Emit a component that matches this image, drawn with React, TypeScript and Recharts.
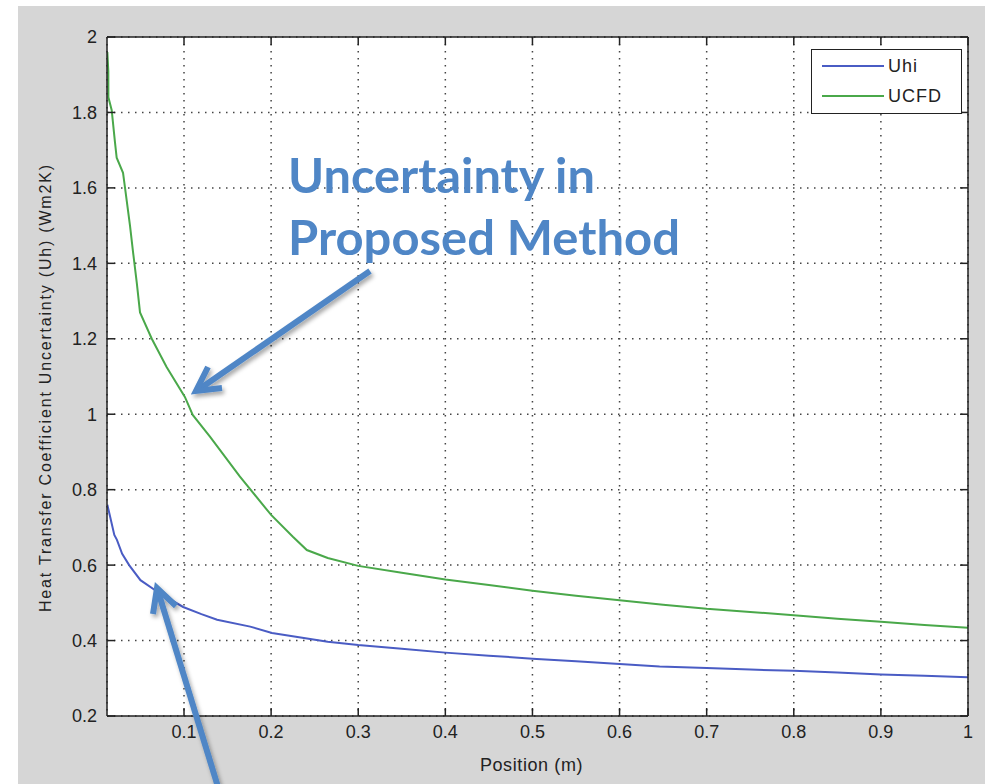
import React from 'react';
import { LineChart, Line, XAxis, YAxis, CartesianGrid, Legend } from 'recharts';

// ---- data ----
const uhiX = [0.012, 0.015, 0.02, 0.023, 0.029, 0.037, 0.05, 0.069, 0.099, 0.12, 0.138, 0.176, 0.201, 0.265, 0.3, 0.35, 0.4, 0.45, 0.5, 0.55, 0.6, 0.646, 0.7, 0.75, 0.8, 0.85, 0.9, 0.95, 1.0];
const uhiY = [0.76, 0.73, 0.68, 0.667, 0.63, 0.6, 0.56, 0.53, 0.489, 0.47, 0.455, 0.437, 0.42, 0.397, 0.388, 0.378, 0.368, 0.36, 0.352, 0.345, 0.338, 0.331, 0.327, 0.323, 0.32, 0.315, 0.31, 0.307, 0.303];

const cfdX = [0.012, 0.0131, 0.0132, 0.017, 0.0208, 0.0227, 0.03, 0.0323, 0.038, 0.0415, 0.0457, 0.0495, 0.063, 0.08, 0.101, 0.11, 0.13, 0.164, 0.2, 0.225, 0.241, 0.265, 0.3, 0.35, 0.4, 0.45, 0.5, 0.55, 0.6, 0.65, 0.7, 0.75, 0.8, 0.85, 0.9, 0.95, 1.0];
const cfdY = [1.96, 1.91, 1.84, 1.806, 1.72, 1.68, 1.64, 1.6, 1.5, 1.43, 1.35, 1.27, 1.2, 1.125, 1.046, 0.998, 0.94, 0.835, 0.733, 0.675, 0.64, 0.619, 0.598, 0.58, 0.562, 0.547, 0.532, 0.519, 0.507, 0.495, 0.484, 0.476, 0.467, 0.458, 0.45, 0.441, 0.434];

const xTicks = [0.1, 0.2, 0.3, 0.4, 0.5, 0.6, 0.7, 0.8, 0.9, 1];
const yTicks = [0.2, 0.4, 0.6, 0.8, 1, 1.2, 1.4, 1.6, 1.8, 2];
const xDomain = [0.0116, 1];
const yDomain = [0.2, 2];

const seriesNames = ['Uhi', 'UCFD'];
const xLabel = 'Position (m)';
const yLabel = 'Heat Transfer Coefficient Uncertainty (Uh) (Wm2K)';
const noteLines = ['Uncertainty in', 'Proposed Method'];

const uhiData = uhiX.map((x, i) => ({ x, y: uhiY[i] }));
const cfdData = cfdX.map((x, i) => ({ x, y: cfdY[i] }));

const FONT = '"Liberation Sans", Arial, sans-serif';
const BLUE = '#4a5cc4';
const GREEN = '#4aa84a';
const NOTE = '#4f86c6';

const EmptyTick = () => <g />;

const renderYLabel = (props: any) => {
  const vb = props.viewBox || {};
  const cx = vb.x + 4;
  const cy = vb.y + vb.height / 2 + 12;
  return (
    <text
      x={cx}
      y={cy}
      transform={`rotate(-90 ${cx} ${cy})`}
      textAnchor="middle"
      fontFamily={FONT}
      fontSize={16}
      fill="#222"
      textLength={447}
      lengthAdjust="spacing"
    >
      {yLabel}
    </text>
  );
};

const renderXLabel = (props: any) => {
  const vb = props.viewBox || {};
  const cx = vb.x + vb.width / 2 - 6;
  return (
    <text x={cx} y={vb.y + 55} textAnchor="middle" fontFamily={FONT} fontSize={18} fill="#222" letterSpacing={0.6}>
      {xLabel}
    </text>
  );
};

const renderLegend = (props: any) => {
  const payload = [...(props.payload || [])].sort(
    (a: any, b: any) => seriesNames.indexOf(a.value) - seriesNames.indexOf(b.value)
  );
  return (
    <div
      style={{
        width: 151,
        height: 65,
        boxSizing: 'border-box',
        border: '1.5px solid #222',
        background: '#fff',
        fontFamily: FONT,
        fontSize: 18,
        color: '#222',
        paddingTop: 1,
      }}
    >
      {payload.map((p: any, i: number) => (
        <div key={i} style={{ display: 'flex', alignItems: 'center', height: 30 }}>
          <svg width={76} height={30} style={{ display: 'block' }}>
            <line x1={10} x2={72} y1={15} y2={15} stroke={p.color} strokeWidth={2} />
          </svg>
          <span style={{ letterSpacing: 1 }}>{p.value}</span>
        </div>
      ))}
    </div>
  );
};

export default function App() {
  return (
    <div style={{ position: 'absolute', left: 0, top: 0, width: 990, height: 784, background: '#fff', overflow: 'hidden' }}>
      <div style={{ position: 'absolute', left: 18, top: 6, width: 967, height: 778, background: '#d6d6d6' }} />
      <div style={{ position: 'absolute', left: 0, top: 0 }}>
        <LineChart width={990} height={784} margin={{ top: 37, right: 22, bottom: 28, left: 47 }}>
          <CartesianGrid
            xAxisId="main"
            yAxisId="main"
            fill="#fff"
            stroke="#444"
            strokeWidth={1.5}
            strokeDasharray="1.5 5.5"
          />
          <XAxis
            xAxisId="main"
            type="number"
            dataKey="x"
            domain={xDomain}
            ticks={xTicks}
            allowDataOverflow
            height={40}
            tickLine={false}
            tickSize={0}
            tickMargin={9}
            axisLine={{ stroke: '#222', strokeWidth: 1.5 }}
            tick={{ fontFamily: FONT, fontSize: 18, fill: '#222' }}
            label={{ content: renderXLabel }}
          />
          <XAxis
            xAxisId="bottomTicks"
            type="number"
            dataKey="x"
            domain={xDomain}
            ticks={xTicks}
            allowDataOverflow
            mirror
            tick={EmptyTick}
            axisLine={false}
            tickSize={8}
            tickLine={{ stroke: '#222', strokeWidth: 1.5 }}
          />
          <XAxis
            xAxisId="top"
            orientation="top"
            type="number"
            dataKey="x"
            domain={xDomain}
            ticks={xTicks}
            allowDataOverflow
            mirror
            tick={EmptyTick}
            tickSize={8}
            axisLine={{ stroke: '#222', strokeWidth: 1.5 }}
            tickLine={{ stroke: '#222', strokeWidth: 1.5 }}
          />
          <YAxis
            yAxisId="main"
            type="number"
            domain={yDomain}
            ticks={yTicks}
            allowDataOverflow
            width={60}
            tickLine={false}
            tickSize={0}
            tickMargin={10}
            axisLine={{ stroke: '#222', strokeWidth: 1.5 }}
            tick={{ fontFamily: FONT, fontSize: 18, fill: '#222' }}
            label={{ content: renderYLabel }}
          />
          <YAxis
            yAxisId="leftTicks"
            type="number"
            domain={yDomain}
            ticks={yTicks}
            allowDataOverflow
            mirror
            tick={EmptyTick}
            axisLine={false}
            tickSize={8}
            tickLine={{ stroke: '#222', strokeWidth: 1.5 }}
          />
          <YAxis
            yAxisId="right"
            orientation="right"
            type="number"
            domain={yDomain}
            ticks={yTicks}
            allowDataOverflow
            mirror
            tick={EmptyTick}
            tickSize={8}
            axisLine={{ stroke: '#222', strokeWidth: 1.5 }}
            tickLine={{ stroke: '#222', strokeWidth: 1.5 }}
          />
          <Legend
            layout="vertical"
            align="center"
            verticalAlign="middle"
            content={renderLegend}
            wrapperStyle={{ position: 'absolute', left: 811, top: 49, width: 151, height: 65 }}
          />
          <Line
            xAxisId="main"
            yAxisId="main"
            data={uhiData}
            dataKey="y"
            name={seriesNames[0]}
            type="linear"
            stroke={BLUE}
            strokeWidth={2}
            dot={false}
            isAnimationActive={false}
          />
          <Line
            xAxisId="main"
            yAxisId="main"
            data={cfdData}
            dataKey="y"
            name={seriesNames[1]}
            type="linear"
            stroke={GREEN}
            strokeWidth={2}
            dot={false}
            isAnimationActive={false}
          />
        </LineChart>
      </div>
      <svg
        width={990}
        height={784}
        style={{ position: 'absolute', left: 0, top: 0, pointerEvents: 'none' }}
      >
        <defs>
          <filter id="shadow" x="-20%" y="-20%" width="140%" height="140%">
            <feDropShadow dx="2" dy="3" stdDeviation="2" floodColor="#000" floodOpacity="0.35" />
          </filter>
        </defs>
        <text fontFamily="Lato, 'Open Sans', sans-serif" fontWeight="bold" fontSize={48} fill={NOTE}>
          <tspan x={288} y={193} textLength={307} lengthAdjust="spacingAndGlyphs">{noteLines[0]}</tspan>
          <tspan x={288} y={255} textLength={392} lengthAdjust="spacingAndGlyphs">{noteLines[1]}</tspan>
        </text>
        <g filter="url(#shadow)" stroke={NOTE} strokeWidth={6} fill="none" strokeLinecap="butt" strokeLinejoin="miter">
          <line x1={370} y1={271} x2={198} y2={390} />
          <polyline points="208,367 196,391 222,388" />
        </g>
        <g filter="url(#shadow)" stroke={NOTE} strokeWidth={6} fill="none" strokeLinecap="butt" strokeLinejoin="miter">
          <line x1={222} y1={800} x2={158} y2={591} />
          <polyline points="153,614 157,588 176,606" />
        </g>
      </svg>
    </div>
  );
}
